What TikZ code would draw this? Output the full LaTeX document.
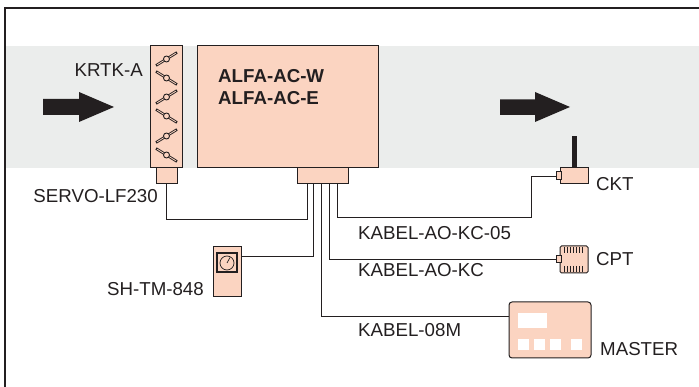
\documentclass[tikz,border=0pt]{standalone}
\usepackage{fontspec}
\setmainfont{Liberation Sans}
\usepackage{xcolor}
\usetikzlibrary{calc}
\definecolor{peach}{HTML}{FBD4C1}
\definecolor{band}{HTML}{EBEDEC}
\definecolor{ink}{HTML}{231F20}

\begin{document}
\begin{tikzpicture}[
    x=1pt,y=-1pt,
    unit/.style={rectangle,draw=ink,fill=peach,line width=1pt,inner sep=0pt},
    wire/.style={draw=ink,line width=0.7pt},
    label/.style={font=\fontsize{18.7}{18.7}\selectfont,text=ink,inner sep=0pt,anchor=west},
    flow/.style={fill=ink},
    window/.style={rectangle,fill=white,inner sep=0pt}
]
\useasboundingbox (0,0) rectangle (699,387);

%--------------------------------------------------------------------
% Frame and duct
%--------------------------------------------------------------------
\node[rectangle,fill=band,inner sep=0pt,minimum width=694pt,minimum height=122pt] (duct) at (352,107) {};
\draw[ink,line width=1.6pt] (5,387) -- (5,8) -- (699,8);

\fill[flow] (43,99) -- (79,99) -- (79,92) -- (114,107) -- (79,122) -- (79,115) -- (43,115) -- cycle;
\fill[flow] (500,99.5) -- (535,99.5) -- (535,92) -- (570,107) -- (535,122) -- (535,115) -- (500,115) -- cycle;

%--------------------------------------------------------------------
% Damper strip and main unit
%--------------------------------------------------------------------
\node[unit,minimum width=32pt,minimum height=122pt] (krtk) at (166,107) {};
\node[unit,minimum width=21pt,minimum height=16pt] (servo) at (166.5,176) {};
\node[unit,minimum width=181pt,minimum height=122pt] (alfa) at (287.5,107) {};
\node[unit,minimum width=51pt,minimum height=16pt] (plug) at (322.5,176) {};

\foreach \yy/\sgn in {59/1,78/-1,97/1,116/-1,136/1,155/-1} {
  \draw[ink,line width=2.6pt] (156,\yy+6.5*\sgn) -- (177,\yy-6.5*\sgn);
  \draw[peach,line width=0.8pt] (157,\yy+5.9*\sgn) -- (176,\yy-5.9*\sgn);
  \fill[peach,draw=ink,line width=0.9pt] (166.5,\yy) circle (3pt);
}

\node[label,anchor=east] (krtklabel) at (143,70) {KRTK-A};
\node[label,anchor=east] (servolabel) at (158,196) {SERVO-LF230};
\node[label,font=\fontsize{18.7}{21.5}\selectfont\bfseries,align=left,anchor=north west] (alfalabel) at (218,69.5) {ALFA-AC-W\\ALFA-AC-E};

%--------------------------------------------------------------------
% Field devices
%--------------------------------------------------------------------
\node[unit,minimum width=28pt,minimum height=16pt] (ckt) at (574,176) {};
\node[unit,minimum width=5pt,minimum height=8pt] (cktport) at (558.5,176) {};
\fill[ink] (571.5,136) rectangle (577,168);
\node[unit,rounded corners=1.5pt,minimum width=28pt,minimum height=27pt] (cpt) at (574,259.5) {};
\node[unit,minimum width=5pt,minimum height=7pt] (cptport) at (558.5,259.5) {};
\foreach \xx in {564.5,567.5,...,585} {
  \draw[ink,line width=1.1pt] (\xx,247) -- (\xx,253);
  \draw[ink,line width=1.1pt] (\xx,266) -- (\xx,272);
}

\node[unit,minimum width=28pt,minimum height=50pt] (shtm) at (227,272) {};
\node[rectangle,draw=ink,line width=1.2pt,inner sep=0pt,minimum width=20pt,minimum height=19pt] (dial) at (227,262.5) {};
\draw[ink,line width=0.7pt] (227,263) circle (7pt);
\draw[ink,line width=0.7pt] (227,263) -- (230,257.5);

\node[unit,rounded corners=3pt,minimum width=82pt,minimum height=56pt] (master) at (550,330) {};
\node[window,minimum width=29pt,minimum height=15pt] (display) at (532.5,320.5) {};
\foreach \xx in {523.5,539.5,555.5,576.5} {
  \node[window,minimum width=11pt,minimum height=11pt] at (\xx,344.5) {};
}

\node[label] (cktlabel) at (596,184) {CKT};
\node[label] (cptlabel) at (596,259) {CPT};
\node[label] (masterlabel) at (600,349) {MASTER};
\node[label,anchor=east] (shtmlabel) at (204,289) {SH-TM-848};
\node[label] (cable1) at (358,233) {KABEL-AO-KC-05};
\node[label] (cable2) at (358,270) {KABEL-AO-KC};
\node[label] (cable3) at (358,330) {KABEL-08M};

%--------------------------------------------------------------------
% Wiring
%--------------------------------------------------------------------
\coordinate (pin1) at (307,184);
\coordinate (pin2) at (313,184);
\coordinate (pin3) at (321,184);
\coordinate (pin4) at (329,184);
\coordinate (pin5) at (337,184);
\coordinate (shtmin) at (241,256);
\coordinate (masterin) at (509,316);

\draw[wire] (servo.south) |- (166.5,219) -| (pin1);
\draw[wire] (pin2) |- (shtmin);
\draw[wire] (pin3) |- (masterin);
\draw[wire] (pin4) |- (cptport.west);
\draw[wire] (pin5) |- (531,217) |- (cktport.west);

\end{tikzpicture}
\end{document}
